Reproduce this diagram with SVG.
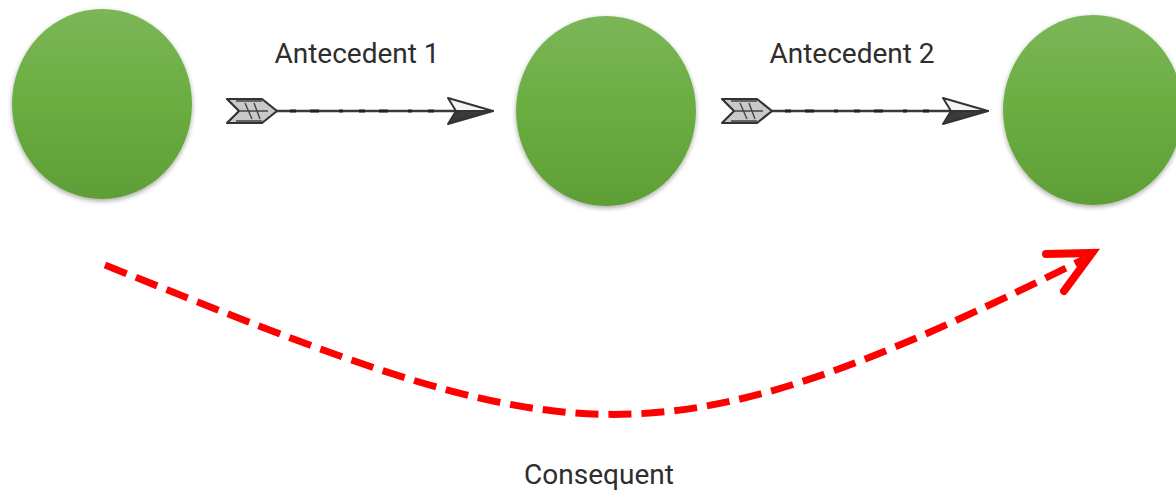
<svg xmlns="http://www.w3.org/2000/svg" width="1176" height="493" viewBox="0 0 1176 493">
  <defs>
    <linearGradient id="g" x1="0" y1="0" x2="0" y2="1">
      <stop offset="0" stop-color="#7bb658"/>
      <stop offset="0.5" stop-color="#6aad40"/>
      <stop offset="1" stop-color="#5f9e36"/>
    </linearGradient>
    <filter id="sh" x="-20%" y="-20%" width="140%" height="140%">
      <feGaussianBlur in="SourceAlpha" stdDeviation="2.5"/>
      <feOffset dy="1.5"/>
      <feComponentTransfer><feFuncA type="linear" slope="0.35"/></feComponentTransfer>
      <feMerge><feMergeNode/><feMergeNode in="SourceGraphic"/></feMerge>
    </filter>
    <g id="sketchArrow">
      <line x1="262" y1="111" x2="490" y2="111" stroke="#3a3a3a" stroke-width="2.6"/>
      <line x1="290" y1="111" x2="440" y2="111" stroke="#222" stroke-width="3.2" stroke-dasharray="6 14 9 20 4 16"/>
      <path d="M227,99 L262,99 L277,111 L262,123 L227,123 L239,111 Z" fill="#c9c9c9" stroke="#333" stroke-width="2.2" stroke-linejoin="round"/>
      <path d="M236,101 L262,101 M240,111 L268,111 M236,121 L262,121 M245,103 L252,119 M254,103 L260,119" stroke="#444" stroke-width="1.4" fill="none"/>
      <path d="M493,111 L448,98 L456,111 Z" fill="#f4f4f4" stroke="#333" stroke-width="2" stroke-linejoin="round"/>
      <path d="M493,111 L448,124 L456,111 Z" fill="#3a3a3a" stroke="#333" stroke-width="2" stroke-linejoin="round"/>
    </g>
  </defs>
  <style>
    .node { fill: url(#g); filter: url(#sh); }
    .lbl { font-family: Roboto, "Liberation Sans", sans-serif; font-size: 28px; fill: #2e2e2e; text-anchor: middle; }
    .conseq { fill: none; stroke: #ff0000; stroke-width: 7; }
  </style>
  <rect width="1176" height="493" fill="#ffffff"/>

  <g id="node1"><ellipse class="node" cx="102" cy="104" rx="90" ry="95"/></g>
  <g id="node2"><ellipse class="node" cx="606" cy="111" rx="90" ry="95"/></g>
  <g id="node3"><ellipse class="node" cx="1093" cy="110" rx="90" ry="95"/></g>

  <g id="connectors">
    <g id="antecedent1">
      <use href="#sketchArrow"/>
      <text class="lbl" x="357" y="63">Antecedent 1</text>
    </g>
    <g id="antecedent2">
      <use href="#sketchArrow" transform="translate(495,0)"/>
      <text class="lbl" x="852" y="63">Antecedent 2</text>
    </g>
    <g id="consequent">
      <path class="conseq" d="M105,265 C567,450 642,480 1084,259" stroke-dasharray="23 10"/>
      <polyline points="1046,254 1092,253 1064,291" fill="none" stroke="#ff0000" stroke-width="8" stroke-linecap="round" stroke-linejoin="miter"/>
      <text class="lbl" x="599" y="484">Consequent</text>
    </g>
  </g>
</svg>
